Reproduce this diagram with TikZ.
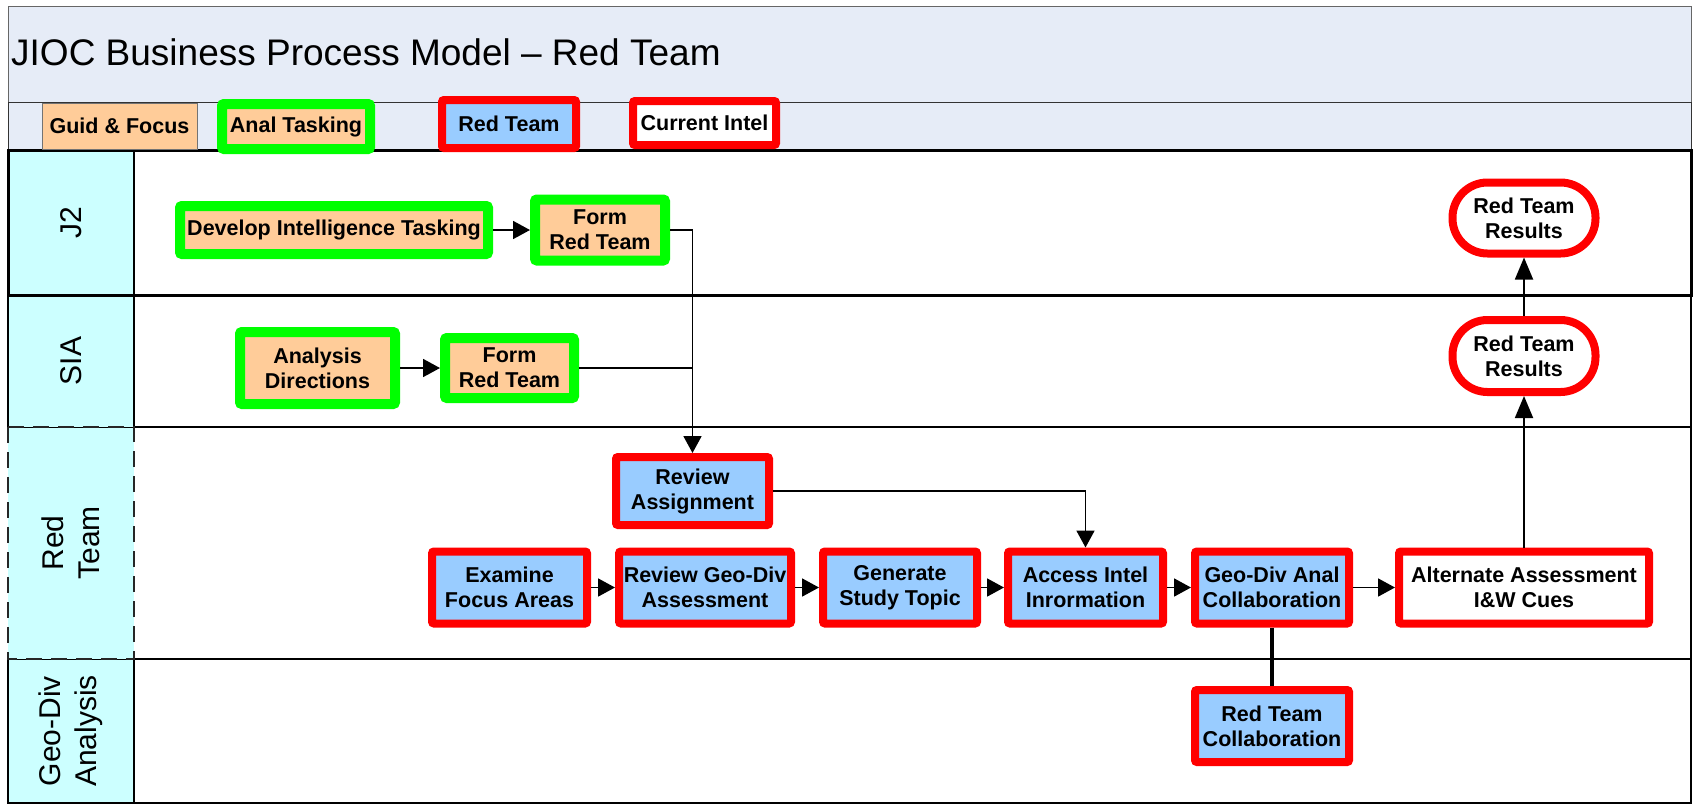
\documentclass[tikz,border=0pt]{standalone}
\usepackage{fontspec}
\setmainfont{Liberation Sans}
\usetikzlibrary{arrows.meta}
\definecolor{peach}{HTML}{FFCC99}
\definecolor{skyfill}{HTML}{99CCFF}
\definecolor{lanehead}{HTML}{CCFFFF}
\definecolor{bandfill}{HTML}{E6ECF7}
\definecolor{vgreen}{HTML}{00FF00}
\definecolor{vred}{HTML}{FF0000}

\begin{document}
\begin{tikzpicture}[x=1pt,y=-1pt,
  every node/.style={inner sep=0pt, align=center},
  boxfont/.style={font=\bfseries\fontsize{21.5}{25}\selectfont},
  tasking/.style={boxfont, draw=vgreen, fill=peach, line width=10pt, rounded corners=2pt},
  redteam/.style={boxfont, draw=vred, fill=skyfill, line width=8pt, rounded corners=2pt},
  intel/.style={boxfont, draw=vred, fill=white, line width=8pt, rounded corners=2pt},
  results/.style={boxfont, draw=vred, fill=white, line width=8pt, rounded corners=35pt},
  guidkey/.style={boxfont, draw=black!55, fill=peach, line width=1pt},
  flow/.style={draw=black, line width=1.8pt, -{Triangle[length=17pt,width=18pt]}},
  link/.style={draw=black, line width=1.8pt},
  lanerule/.style={line width=1.6pt},
  headdash/.style={line width=2.4pt, dash pattern=on 16pt off 9pt, black!85},
  lanelabel/.style={rotate=90, font=\fontsize{30}{36}\selectfont},
]
\useasboundingbox (0,0) rectangle (1697,804);
\fill[white] (0,0) rectangle (1697,804);

% title and legend bands
\filldraw[fill=bandfill, draw=black!60, line width=1pt] (8,6) rectangle (1691,102);
\filldraw[fill=bandfill, draw=black!80, line width=1pt] (8,102) rectangle (1691,150);
\node[anchor=west, font=\fontsize{37}{44}\selectfont] (title) at (11,52) {JIOC Business Process Model -- Red Team};

% swim lanes
\fill[lanehead] (8,150) rectangle (134,803);
\draw[lanerule] (8,427) -- (8,150) -- (1691,150) -- (1691,803) -- (8,803) -- (8,659);
\draw[lanerule] (134,150) -- (134,427);
\draw[lanerule] (134,659) -- (134,803);
\draw[line width=1pt] (8,427) -- (1691,427);
\draw[line width=1pt] (8,659) -- (1691,659);
\draw[lanerule] (134,427) -- (1691,427);
\draw[lanerule] (134,659) -- (1691,659);
\draw[line width=3pt] (8,150) rectangle (1691,295);
% Red Team lane header, dashed outline
\draw[headdash] (8,427) rectangle (134,659);

\node[lanelabel] (lj2) at (71,223) {J2};
\node[lanelabel] (lsia) at (71,361) {SIA};
\node[lanelabel] (lred) at (71,543) {Red\\Team};
\node[lanelabel] (lgeo) at (71,731) {Geo-Div\\Analysis};

% legend keys
\node[guidkey, minimum width=155pt, minimum height=46pt] (kguid) at (119.5,126) {Guid \& Focus};
\node[tasking, minimum width=148pt, minimum height=45pt] (ktask) at (296,126.5) {Anal Tasking};
\node[redteam, minimum width=134pt, minimum height=48pt] (kred) at (509,124) {Red Team};
\node[intel, minimum width=143pt, minimum height=44pt] (kintel) at (704.5,123) {Current Intel};

% J2 lane
\node[tasking, minimum width=308pt, minimum height=48pt] (dit) at (334,230) {Develop Intelligence Tasking};
\node[tasking, minimum width=130pt, minimum height=61pt] (frj) at (600,230) {Form\\Red Team};
\node[results, minimum width=143pt, minimum height=71pt] (rrj) at (1524,218) {Red Team\\Results};

% SIA lane
\node[tasking, minimum width=155pt, minimum height=72pt] (adir) at (317.5,368) {Analysis\\Directions};
\node[tasking, minimum width=129pt, minimum height=60pt] (frs) at (509.5,368) {Form\\Red Team};
\node[results, minimum width=143pt, minimum height=72pt] (rrs) at (1524,356) {Red Team\\Results};

% Red Team lane
\node[redteam, minimum width=153pt, minimum height=68pt] (rass) at (692.5,491) {Review\\Assignment};
\node[redteam, minimum width=155pt, minimum height=72pt] (exam) at (509.5,587.5) {Examine\\Focus Areas};
\node[redteam, minimum width=172pt, minimum height=72pt] (rgeo) at (705,587.5) {Review Geo-Div\\Assessment};
\node[redteam, minimum width=154pt, minimum height=72pt] (gen) at (900,587.5) {Generate\\Study Topic};
\node[redteam, minimum width=155pt, minimum height=72pt] (acc) at (1085.5,587.5) {Access Intel\\Inrormation};
\node[redteam, minimum width=154pt, minimum height=72pt] (gda) at (1272,587.5) {Geo-Div Anal\\Collaboration};
\node[intel, minimum width=250pt, minimum height=72pt] (alt) at (1524,587.5) {Alternate Assessment\\I\&W Cues};

% Geo-Div Analysis lane
\node[redteam, minimum width=154pt, minimum height=72pt] (rtc) at (1272,726) {Red Team\\Collaboration};

% connectors
\draw[flow] (dit) -- (frj);
\draw[flow] (frj.east) -- (frj.east -| rass.north) -- (rass.north);
\draw[flow] (adir) -- (frs);
\draw[link] (frs.east) -- (frs.east -| rass.north);
\draw[flow] (rass.east) -- (rass.east -| acc.north) -- (acc.north);
\draw[flow] (exam) -- (rgeo);
\draw[flow] (rgeo) -- (gen);
\draw[flow] (gen) -- (acc);
\draw[flow] (acc) -- (gda);
\draw[flow] (gda) -- (alt);
\draw[line width=4.5pt] (gda.south) -- (rtc.north);
\draw[flow, -{Triangle[length=22pt,width=18pt]}] (alt.north) -- (rrs.south);
\draw[flow, -{Triangle[length=22pt,width=18pt]}] (rrs.north) -- (rrj.south);
\end{tikzpicture}
\end{document}
